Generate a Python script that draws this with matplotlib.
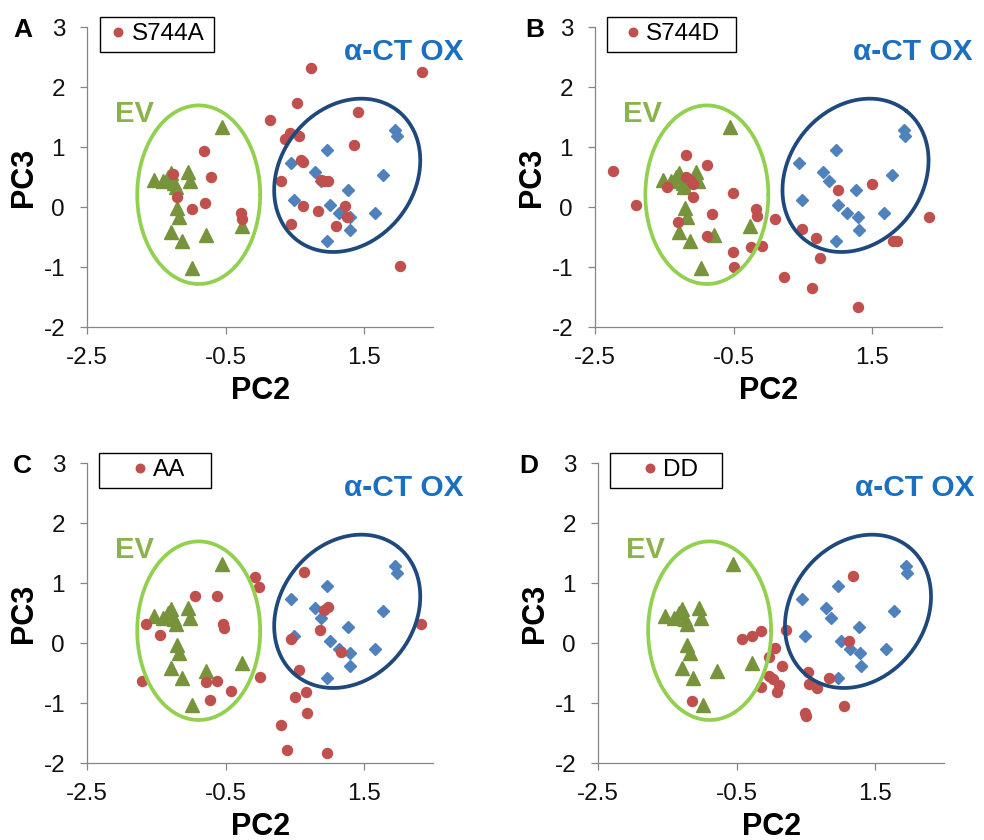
import numpy as np
import matplotlib
matplotlib.use("Agg")
import matplotlib.pyplot as plt
from matplotlib.patches import Rectangle

plt.rcParams['font.family'] = ['Liberation Sans', 'DejaVu Sans']

# ---------------- data ----------------
panel_letters = ["A", "B", "C", "D"]
variant_names = ["S744A", "S744D", "AA", "DD"]

ev_x = [-1.53, -1.41, -1.34, -1.29, -1.24, -1.22, -1.05, -1.02, -1.21, -1.17,
        -1.29, -1.13, -0.78, -0.98, -0.55, -0.27]
ev_y = [0.45, 0.43, 0.50, 0.57, 0.40, 0.33, 0.59, 0.43, -0.02, -0.16,
        -0.41, -0.57, -0.46, -1.02, 1.33, -0.32]

ox_x = [1.95, 1.97, 0.97, 0.44, 0.79, 0.87, 1.78, 1.27, 0.49, 1.01,
        1.14, 1.29, 1.66, 1.30, 0.97]
ox_y = [1.29, 1.18, 0.96, 0.74, 0.59, 0.43, 0.54, 0.28, 0.12, 0.04,
        -0.10, -0.16, -0.09, -0.38, -0.57]

s744a_x = [0.73, 2.34, 0.53, 0.14, 1.41, 0.36, 0.43, 0.56, 1.36, -0.82,
           -0.71, -1.26, -1.20, -0.98, -0.80, -0.28, -0.27, 0.59, 0.62, 0.30,
           0.87, 0.92, 0.98, 0.61, 0.84, 0.45, 1.10, 1.23, 1.26, 2.02]
s744a_y = [2.32, 2.26, 1.74, 1.46, 1.58, 1.13, 1.23, 1.19, 1.04, 0.93,
           0.51, 0.56, 0.17, -0.03, 0.07, -0.09, -0.19, 0.79, 0.76, 0.44,
           0.46, 0.43, 0.44, 0.02, -0.06, -0.28, -0.31, 0.02, -0.17, -0.98]

s744d_x = [-2.25, -1.91, -1.46, -1.19, -1.19, -1.14, -1.09, -1.09, -1.31, -0.89,
           -0.82, -0.89, -0.51, -0.51, -0.50, -0.18, -0.17, -0.25, -0.09, 0.10,
           0.23, 0.48, 0.68, 0.74, 0.63, 1.01, 1.50, 1.29, 1.80, 1.85, 2.32]
s744d_y = [0.61, 0.04, 0.33, 0.87, 0.51, 0.46, 0.39, 0.17, -0.24, 0.71,
           -0.11, -0.48, 0.23, -0.75, -0.99, -0.03, -0.14, -0.67, -0.64, -0.19,
           -1.16, -0.36, -0.52, -0.85, -1.34, 0.28, 0.38, -1.67, -0.56, -0.56, -0.16]

aa_x = [-1.65, -1.45, -1.71, -0.94, -0.62, -0.54, -0.53, -0.78, -0.63, -0.73,
        -0.43, -0.08, -0.02, -0.01, 0.63, 0.45, 0.56, 0.50, 0.66, 0.68,
        0.30, 0.38, 0.97, 0.86, 0.92, 0.98, 1.17, 2.32]
aa_y = [0.32, 0.14, -0.62, 0.79, 0.79, 0.32, 0.25, -0.65, -0.62, -0.94,
        -0.79, 1.11, 0.94, -0.56, 1.19, 0.08, -0.44, -0.89, -0.81, -1.16,
        -1.36, -1.78, -1.83, 0.22, 0.56, 0.61, -0.15, 0.33]

dd_x = [-1.14, -0.42, -0.27, -0.14, 0.05, -0.03, 0.15, -0.03, 0.03, 0.11,
        -0.14, 0.08, 0.21, 0.53, 0.55, 0.67, 0.84, 0.49, 0.50, 1.06,
        1.19, 1.12]
dd_y = [-0.96, 0.08, 0.12, 0.21, -0.07, -0.22, -0.37, -0.54, -0.60, -0.69,
        -0.72, -0.81, 0.23, -0.48, -0.68, -0.75, -0.57, -1.16, -1.21, -1.04,
        1.13, 0.04]

variants_x = [s744a_x, s744d_x, aa_x, dd_x]
variants_y = [s744a_y, s744d_y, aa_y, dd_y]

x_ticks = [-2.5, -0.5, 1.5]
x_tick_labels = ["-2.5", "-0.5", "1.5"]
y_ticks = [-2, -1, 0, 1, 2, 3]
y_tick_labels = ["-2", "-1", "0", "1", "2", "3"]

# ---------------- styles ----------------
RED = "#C0504D"
GREEN_M = "#77933C"
BLUE_M = "#4F81BD"
GREEN_E = "#92D050"
BLUE_E = "#1F497D"
EV_TXT = "#8AB34E"
OX_TXT = "#1A6FC0"
AX_GRAY = "#868686"

W, H = 984, 840
fig = plt.figure(figsize=(W / 100, H / 100), dpi=100)

rects_px = [  # left, top, width, height (pixels)
    (87.3, 27.3, 346.0, 300.0),
    (595.3, 27.3, 346.4, 300.0),
    (87.3, 463.3, 346.0, 300.0),
    (598.3, 463.3, 345.7, 300.0),
]
letter_pos = [(13, 37), (525, 37), (13, 473), (519, 473)]
legend_box = [(0.0367, 0.366), (0.0346, 0.406), (0.0338, 0.3575), (0.0338, 0.358)]
legend_marker_x = [0.0896, 0.108, 0.152, 0.1496]


def draw_ellipse(ax, cx, cy, a_px, b_px, angle_deg, color):
    t = np.linspace(0, 2 * np.pi, 400)
    th = np.deg2rad(angle_deg)
    xp = a_px * np.cos(t) * np.cos(th) - b_px * np.sin(t) * np.sin(th)
    yp = a_px * np.cos(t) * np.sin(th) + b_px * np.sin(t) * np.cos(th)
    c = ax.transData.transform((cx, cy))
    pts = ax.transData.inverted().transform(np.column_stack([c[0] + xp, c[1] + yp]))
    ax.plot(pts[:, 0], pts[:, 1], color=color, lw=2.7, zorder=4, solid_capstyle='round')


for i in range(4):
    l, t, w, h = rects_px[i]
    ax = fig.add_axes([l / W, (H - t - h) / H, w / W, h / H])
    ax.set_xlim(-2.5, 2.5)
    ax.set_ylim(-2, 3)
    for s in ["top", "right"]:
        ax.spines[s].set_visible(False)
    for s in ["left", "bottom"]:
        ax.spines[s].set_color(AX_GRAY)
        ax.spines[s].set_linewidth(0.9)
    ax.set_xticks(x_ticks)
    ax.set_xticklabels(x_tick_labels)
    ax.set_yticks(y_ticks)
    ax.set_yticklabels(y_tick_labels)
    ax.tick_params(axis='both', direction='out', length=5, width=0.9, color=AX_GRAY,
                   labelsize=17.5, labelcolor="#111111")
    ax.tick_params(axis='y', pad=11)
    ax.tick_params(axis='x', pad=9)
    ax.set_xlabel("PC2", fontsize=22, fontweight='bold', labelpad=5)
    ax.set_ylabel("PC3", fontsize=22, fontweight='bold', labelpad=3)

    ax.plot(ev_x, ev_y, ls='none', marker='^', ms=10, color=GREEN_M, mec=GREEN_M, zorder=3)
    ax.plot(ox_x, ox_y, ls='none', marker='D', ms=5.8, color=BLUE_M, mec=BLUE_M, zorder=3)
    red, = ax.plot(variants_x[i], variants_y[i], ls='none', marker='o', ms=7.2,
                   color=RED, mec=RED, zorder=3)

    draw_ellipse(ax, -0.89, 0.21, 61.5, 89.3, 0, GREEN_E)
    draw_ellipse(ax, 1.256, 0.533, 82, 67, 52, BLUE_E)

    ax.text(-1.82, 1.55, "EV", color=EV_TXT, fontsize=21, fontweight='bold',
            ha='center', va='center', zorder=5)
    ax.text(2.08, 2.58, "α-CT OX", color=OX_TXT, fontsize=21.5, fontweight='bold',
            ha='center', va='center', zorder=5, clip_on=False)

    x0, x1 = legend_box[i]
    ax.add_patch(Rectangle((x0, 0.918), x1 - x0, 1.0353 - 0.918, transform=ax.transAxes,
                           facecolor='white', edgecolor='black', lw=1.0, clip_on=False,
                           zorder=6))
    leg = ax.legend(handles=[red], labels=[variant_names[i]], loc='center left',
                    bbox_to_anchor=(legend_marker_x[i] - 7.5 / w, 0.977),
                    frameon=False, borderpad=0, borderaxespad=0, handlelength=0.6,
                    handletextpad=0.25, fontsize=17.5, numpoints=1, markerscale=0.85)
    leg.set_zorder(7)

    lx, ly = letter_pos[i]
    fig.text(lx / W, 1 - ly / H, panel_letters[i], fontsize=19, fontweight='bold',
             ha='left', va='baseline')

fig.savefig("out.png", dpi=100)
